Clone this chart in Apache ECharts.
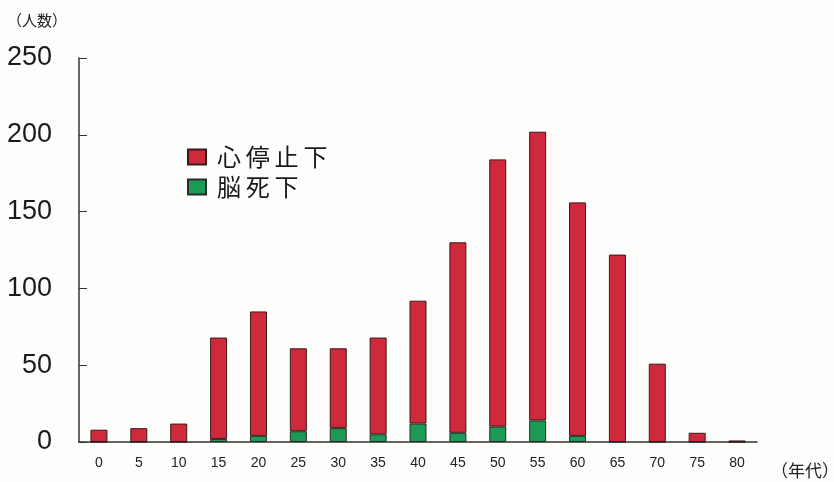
<!DOCTYPE html>
<html>
<head>
<meta charset="utf-8">
<script src="https://cdn.jsdelivr.net/npm/echarts@6/dist/echarts.min.js"></script>
<style>
  html, body { margin: 0; padding: 0; background: #fdfdfb; }
  #chart { width: 834px; height: 482px; }
</style>
</head>
<body>
<div id="chart"></div>
<script>
// 年代別の人数
var ages = ['0', '5', '10', '15', '20', '25', '30', '35', '40', '45', '50', '55', '60', '65', '70', '75', '80']
var brainDeath = [0, 0, 0, 2, 4, 7, 9, 5, 12, 6, 10, 14, 4, 0, 0, 0, 0]
var cardiacArrest = [8, 9, 12, 66, 81, 54, 52, 63, 80, 124, 174, 188, 152, 122, 51, 6, 1]
var yTicks = [0, 50, 100, 150, 200, 250]

var fontFamily = '"Liberation Sans", Arial, "Noto Sans CJK JP", sans-serif'
var cjkFont = '"Noto Sans CJK JP", sans-serif'
var axisColor = '#333'

var chart = echarts.init(document.getElementById('chart'))

chart.setOption({
    backgroundColor: '#fdfdfb',
    animation: false,
    textStyle: { fontFamily: fontFamily },
    grid: { left: 79, right: 77, top: 58, bottom: 40, containLabel: false, outerBoundsMode: 'none' },
    legend: {
        orient: 'vertical',
        left: 187,
        top: 145,
        padding: 0,
        icon: 'rect',
        itemWidth: 18,
        itemHeight: 15,
        itemGap: 6,
        data: ['心停止下', '脳死下'],
        // 文字間を少し空ける
        formatter: function (name) { return name.split('').join('\u2009') },
        textStyle: { fontSize: 24, lineHeight: 24, color: '#1a1a1a', fontFamily: cjkFont, padding: [0, 0, 0, 6] }
    },
    xAxis: {
        type: 'category',
        data: ages,
        boundaryGap: true,
        axisLine: { lineStyle: { color: axisColor, width: 1.5 } },
        axisTick: { inside: true, length: 5, alignWithLabel: false, lineStyle: { color: axisColor } },
        axisLabel: { fontSize: 14, color: '#222', margin: 14 },
        name: '（年代）',
        nameLocation: 'end',
        nameGap: 14,
        nameTextStyle: { fontSize: 17, color: '#222', fontFamily: cjkFont, verticalAlign: 'top', padding: [20, 0, 0, 0] }
    },
    yAxis: {
        type: 'value',
        min: yTicks[0],
        max: yTicks[yTicks.length - 1],
        interval: yTicks[1] - yTicks[0],
        splitLine: { show: false },
        axisLine: { show: true, lineStyle: { color: axisColor, width: 1.5 } },
        axisTick: { show: true, inside: true, length: 8, lineStyle: { color: axisColor } },
        axisLabel: { fontSize: 27, color: '#1a1a1a', margin: 27 },
        name: '（人数）',
        nameLocation: 'end',
        nameGap: 30,
        nameTextStyle: { fontSize: 15, color: '#222', fontFamily: cjkFont, align: 'right', padding: [0, 12, 0, 0] }
    },
    series: [
        {
            name: '脳死下',
            type: 'bar',
            stack: 'total',
            barWidth: 17,
            data: brainDeath,
            itemStyle: { color: '#1b9a58', borderColor: '#2a2a2a', borderWidth: 1 }
        },
        {
            name: '心停止下',
            type: 'bar',
            stack: 'total',
            barWidth: 17,
            data: cardiacArrest,
            itemStyle: { color: '#cf2a3c', borderColor: '#3a1a1a', borderWidth: 1 }
        }
    ]
})
</script>
</body>
</html>
